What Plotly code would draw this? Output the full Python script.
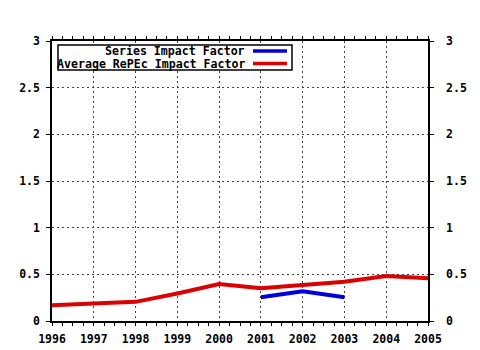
import plotly.graph_objects as go

years = [1996, 1997, 1998, 1999, 2000, 2001, 2002, 2003, 2004, 2005]
avg_repec = [0.17, 0.185, 0.205, 0.295, 0.395, 0.35, 0.39, 0.42, 0.483, 0.457]
series_years = [2001, 2002, 2003]
series_if = [0.254, 0.318, 0.254]
y_ticks = [0, 0.5, 1, 1.5, 2, 2.5, 3]
y_labels = ["0", "0.5", "1", "1.5", "2", "2.5", "3"]
legend_names = ["Series Impact Factor", "Average RePEc Impact Factor"]
colors = ["#0000dd", "#dd0000"]

FONT = "DejaVu Sans Mono"
W, H = 480, 350
L, R, T, B = 52, 52, 41, 29
PW, PH = W - L - R, H - T - B

def px(x):
    return (x - L) / PW

def py(y):
    return (H - B - y) / PH

fig = go.Figure()
fig.add_trace(go.Scatter(x=years, y=avg_repec, mode="lines",
                         line=dict(color=colors[1], width=4), showlegend=False))
fig.add_trace(go.Scatter(x=series_years, y=series_if, mode="lines",
                         line=dict(color=colors[0], width=4), showlegend=False))
# invisible trace to activate right axis
fig.add_trace(go.Scatter(x=[years[0]], y=[0], yaxis="y2", mode="markers",
                         marker=dict(opacity=0), showlegend=False, hoverinfo="skip"))

axis_font = dict(family=FONT, size=11.5, color="black", weight="bold")
grid = dict(showgrid=True, gridcolor="#444444", griddash="2px,3px", gridwidth=1)

fig.update_layout(
    width=W, height=H,
    margin=dict(l=L, r=R, t=T, b=B, pad=0, autoexpand=False),
    paper_bgcolor="white", plot_bgcolor="white",
    font=dict(family=FONT, size=11.5, color="black"),
    xaxis=dict(range=[1996, 2005], tickvals=years, ticktext=[str(y) for y in years],
               **grid,
               showline=True, linecolor="black", linewidth=1.5, mirror="allticks",
               ticks="outside", ticklen=3, tickcolor="black",
               minor=dict(dtick=0.25, tick0=1996, ticks="outside", ticklen=2, tickcolor="black", showgrid=False),
               tickfont=axis_font, zeroline=False, fixedrange=True, automargin=False,
               ticklabelstandoff=3),
    yaxis=dict(range=[0, 3], tickvals=y_ticks, ticktext=y_labels,
               **grid,
               showline=True, linecolor="black", linewidth=1.5,
               ticks="outside", ticklen=4, tickcolor="black", automargin=False,
               tickfont=axis_font, zeroline=False, ticklabelstandoff=4),
    yaxis2=dict(range=[0, 3], tickvals=y_ticks, ticktext=y_labels, overlaying="y",
                side="right", showgrid=False, showline=True, linecolor="black", linewidth=1.5,
                ticks="outside", ticklen=4, tickcolor="black", automargin=False,
                tickfont=axis_font, zeroline=False, ticklabelstandoff=10),
)

# custom legend box (text right-aligned, samples on the right)
fig.add_shape(type="rect", xref="paper", yref="paper",
              x0=px(58), x1=px(292), y0=py(70), y1=py(45),
              line=dict(color="black", width=1.5), fillcolor="white", layer="above")
rows_y = [51, 63.5]
for name, color, yy in zip(legend_names, colors, rows_y):
    fig.add_annotation(xref="paper", yref="paper", x=px(246), y=py(yy),
                       text=name, showarrow=False, xanchor="right", yanchor="middle",
                       borderpad=0,
                       font=dict(family=FONT, size=11.6, color="black", weight="bold"))
    fig.add_shape(type="line", xref="paper", yref="paper",
                  x0=px(253), x1=px(287), y0=py(yy), y1=py(yy),
                  line=dict(color=color, width=3.5), layer="above")

fig.write_html("out.html")
